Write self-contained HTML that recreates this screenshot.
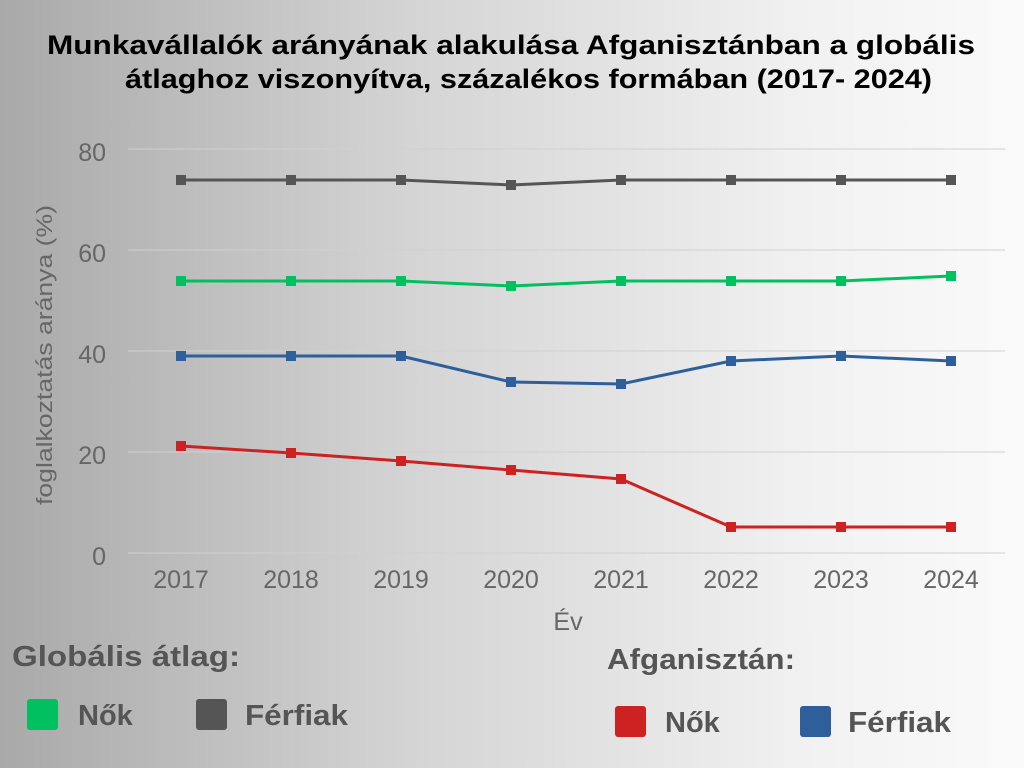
<!DOCTYPE html>
<html><head><meta charset="utf-8"><style>
body{margin:0;width:1024px;height:768px;overflow:hidden;background:linear-gradient(90deg,#a9a9a9 0%,#d4d4d4 40%,#f2f2f2 80%,#fafafa 100%);font-family:"Liberation Sans",sans-serif;}
</style></head><body>
<svg width="1024" height="768" xmlns="http://www.w3.org/2000/svg" style="position:absolute;left:0;top:0">
<g font-family="Liberation Sans, sans-serif" font-weight="bold" font-size="27" fill="#000">
<text x="47" y="54" textLength="928" lengthAdjust="spacingAndGlyphs">Munkavállalók arányának alakulása Afganisztánban a globális</text>
<text x="125" y="88" textLength="807" lengthAdjust="spacingAndGlyphs">átlaghoz viszonyítva, százalékos formában (2017- 2024)</text>
</g>
<g stroke="#d0d0d0" stroke-width="1">
<line x1="128" x2="1005" y1="149" y2="149"/><line x1="128" x2="1005" y1="250" y2="250"/>
<line x1="128" x2="1005" y1="351" y2="351"/><line x1="128" x2="1005" y1="452" y2="452"/>
<line x1="128" x2="1005" y1="553" y2="553"/></g>
<g font-size="25" fill="#666" text-anchor="end">
<text x="106" y="161">80</text><text x="106" y="262">60</text><text x="106" y="363">40</text><text x="106" y="464">20</text><text x="106" y="565">0</text></g>
<g font-size="25" fill="#666" text-anchor="middle">
<text x="181" y="588">2017</text><text x="291" y="588">2018</text><text x="401" y="588">2019</text><text x="511" y="588">2020</text><text x="621" y="588">2021</text><text x="731" y="588">2022</text><text x="841" y="588">2023</text><text x="951" y="588">2024</text>
<text x="568" y="630">Év</text></g>
<text transform="translate(52,355) rotate(-90)" font-size="22" fill="#666" text-anchor="middle" textLength="300" lengthAdjust="spacingAndGlyphs">foglalkoztatás aránya (%)</text>
<g fill="none" stroke-width="3">
<polyline stroke="#555" points="181,180 291,180 401,180 511,185 621,180 731,180 841,180 951,180"/>
<polyline stroke="#00c060" points="181,281 291,281 401,281 511,286 621,281 731,281 841,281 951,276"/>
<polyline stroke="#2e5f9b" points="181,356 291,356 401,356 511,382 621,384 731,361 841,356 951,361"/>
<polyline stroke="#cc2222" points="181,446 291,453 401,461 511,470 621,479 731,527 841,527 951,527"/>
</g>
<g fill="#555"><rect x="176" y="175" width="10" height="10"/><rect x="286" y="175" width="10" height="10"/><rect x="396" y="175" width="10" height="10"/><rect x="506" y="180" width="10" height="10"/><rect x="616" y="175" width="10" height="10"/><rect x="726" y="175" width="10" height="10"/><rect x="836" y="175" width="10" height="10"/><rect x="946" y="175" width="10" height="10"/></g>
<g fill="#00c060"><rect x="176" y="276" width="10" height="10"/><rect x="286" y="276" width="10" height="10"/><rect x="396" y="276" width="10" height="10"/><rect x="506" y="281" width="10" height="10"/><rect x="616" y="276" width="10" height="10"/><rect x="726" y="276" width="10" height="10"/><rect x="836" y="276" width="10" height="10"/><rect x="946" y="271" width="10" height="10"/></g>
<g fill="#2e5f9b"><rect x="176" y="351" width="10" height="10"/><rect x="286" y="351" width="10" height="10"/><rect x="396" y="351" width="10" height="10"/><rect x="506" y="377" width="10" height="10"/><rect x="616" y="379" width="10" height="10"/><rect x="726" y="356" width="10" height="10"/><rect x="836" y="351" width="10" height="10"/><rect x="946" y="356" width="10" height="10"/></g>
<g fill="#cc2222"><rect x="176" y="441" width="10" height="10"/><rect x="286" y="448" width="10" height="10"/><rect x="396" y="456" width="10" height="10"/><rect x="506" y="465" width="10" height="10"/><rect x="616" y="474" width="10" height="10"/><rect x="726" y="522" width="10" height="10"/><rect x="836" y="522" width="10" height="10"/><rect x="946" y="522" width="10" height="10"/></g>
<g font-weight="bold" font-size="29" fill="#555">
<text x="12" y="666" textLength="228" lengthAdjust="spacingAndGlyphs">Globális átlag:</text>
<text x="607" y="669" textLength="188" lengthAdjust="spacingAndGlyphs">Afganisztán:</text>
<text x="78" y="725">Nők</text><text x="245" y="725" textLength="103" lengthAdjust="spacingAndGlyphs">Férfiak</text>
<text x="665" y="732">Nők</text><text x="848" y="732" textLength="103" lengthAdjust="spacingAndGlyphs">Férfiak</text></g>
<rect x="27" y="699" width="31" height="31" rx="3" fill="#00c060"/>
<rect x="196" y="699" width="31" height="31" rx="3" fill="#555"/>
<rect x="615" y="706" width="31" height="31" rx="3" fill="#cc2222"/>
<rect x="800" y="706" width="31" height="31" rx="3" fill="#2e5f9b"/>
</svg>
</body></html>
